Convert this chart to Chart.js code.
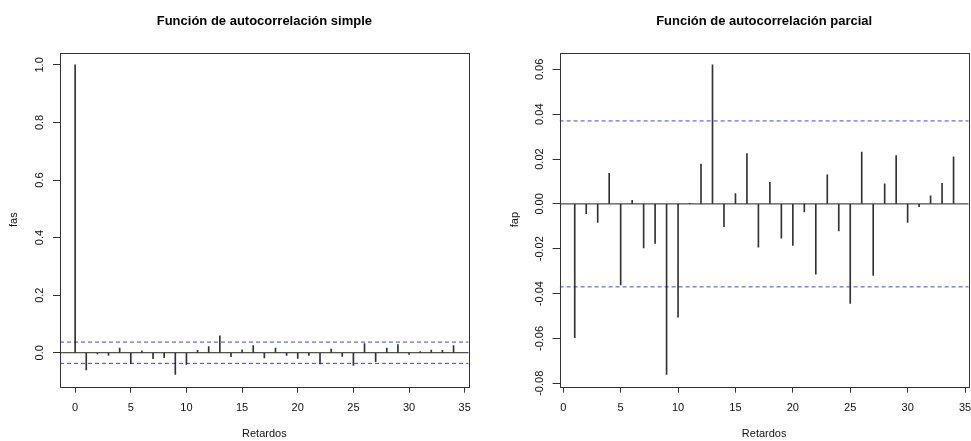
<!DOCTYPE html>
<html>
<head>
<meta charset="utf-8">
<script src="https://cdn.jsdelivr.net/npm/chart.js@4"></script>
<style>
  body { margin: 0; background: #fff; }
  canvas { position: absolute; top: 0; }
  #acfChart { left: 0; }
  #pacfChart { left: 485px; }
</style>
</head>
<body>
<canvas id="acfChart" width="485" height="441"></canvas>
<canvas id="pacfChart" width="486" height="441"></canvas>
<script>
// data
const acfLags = [0, 1, 2, 3, 4, 5, 6, 7, 8, 9, 10, 11, 12, 13, 14, 15, 16, 17,
  18, 19, 20, 21, 22, 23, 24, 25, 26, 27, 28, 29, 30, 31, 32, 33, 34];
const acfValues = [1.000, -0.060, -0.004, -0.009, 0.016, -0.037, 0.007, -0.021, -0.017,
  -0.075, -0.041, 0.008, 0.021, 0.059, -0.014, 0.010, 0.025, -0.018, 0.016, -0.009,
  -0.020, -0.009, -0.039, 0.013, -0.013, -0.044, 0.032, -0.031, 0.016, 0.028, -0.006,
  0.004, 0.009, 0.008, 0.025];

const pacfLags = [1, 2, 3, 4, 5, 6, 7, 8, 9, 10, 11, 12, 13, 14, 15, 16, 17,
  18, 19, 20, 21, 22, 23, 24, 25, 26, 27, 28, 29, 30, 31, 32, 33, 34];
const pacfValues = [-0.0597, -0.0044, -0.0083, 0.0136, -0.0361, 0.0016, -0.0196, -0.0176,
  -0.0760, -0.0505, 0.0003, 0.0178, 0.0620, -0.0102, 0.0046, 0.0224, -0.0193, 0.0096,
  -0.0153, -0.0185, -0.0036, -0.0313, 0.0130, -0.0121, -0.0444, 0.0231, -0.0319, 0.0089,
  0.0216, -0.0083, -0.0012, 0.0036, 0.0092, 0.0210];

const ciLimit = 0.037; // dashed blue band

const xTicks = [0, 5, 10, 15, 20, 25, 30, 35];
const xTickLabels = ['0', '5', '10', '15', '20', '25', '30', '35'];
const acfYTicks = [0, 0.2, 0.4, 0.6, 0.8, 1.0];
const acfYTickLabels = ['0.0', '0.2', '0.4', '0.6', '0.8', '1.0'];
const pacfYTicks = [-0.08, -0.06, -0.04, -0.02, 0, 0.02, 0.04, 0.06];
const pacfYTickLabels = ['-0.08', '-0.06', '-0.04', '-0.02', '0.00', '0.02', '0.04', '0.06'];

const FONT = '"Liberation Sans", Arial, Helvetica, sans-serif';

// R pads the data range by 4% on each side
function expand(lo, hi) {
  const d = (hi - lo) * 0.04;
  return [lo - d, hi + d];
}

function makeChart(id, cfg) {
  const [xMin, xMax] = expand(Math.min(...cfg.lags), Math.max(...cfg.lags));
  const [yMin, yMax] = expand(Math.min(...cfg.values, -ciLimit), Math.max(...cfg.values, ciLimit));

  // box, rotated y tick labels and x tick labels, R style
  const framePlugin = {
    id: 'rframe',
    afterDraw(chart) {
      const { ctx, chartArea: a, scales } = chart;
      ctx.save();
      ctx.strokeStyle = '#333';
      ctx.lineWidth = 1;
      ctx.strokeRect(Math.round(a.left) + 0.5, Math.round(a.top) + 0.5,
        Math.round(a.right - a.left), Math.round(a.bottom - a.top));
      ctx.fillStyle = '#111';
      ctx.font = '11px ' + FONT;
      ctx.textAlign = 'center';
      ctx.textBaseline = 'middle';
      xTicks.forEach((v, i) => {
        ctx.fillText(xTickLabels[i], scales.x.getPixelForValue(v), a.bottom + 21);
      });
      cfg.yTicks.forEach((v, i) => {
        ctx.save();
        ctx.translate(a.left - 20, scales.y.getPixelForValue(v));
        ctx.rotate(-Math.PI / 2);
        ctx.fillText(cfg.yTickLabels[i], 0, 0);
        ctx.restore();
      });
      ctx.restore();
    }
  };

  return new Chart(document.getElementById(id), {
    type: 'bar',
    data: {
      datasets: [
        {
          type: 'line',
          data: [{ x: xMin, y: ciLimit }, { x: xMax, y: ciLimit }],
          borderColor: 'rgba(0, 0, 255, 0.75)',
          borderWidth: 1,
          borderDash: [4, 3],
          pointRadius: 0
        },
        {
          type: 'line',
          data: [{ x: xMin, y: -ciLimit }, { x: xMax, y: -ciLimit }],
          borderColor: 'rgba(0, 0, 255, 0.75)',
          borderWidth: 1,
          borderDash: [4, 3],
          pointRadius: 0
        },
        {
          type: 'line',
          data: [{ x: xMin, y: 0 }, { x: xMax, y: 0 }],
          borderColor: '#222',
          borderWidth: 1,
          pointRadius: 0
        },
        {
          type: 'bar',
          data: cfg.lags.map((l, i) => ({ x: l, y: cfg.values[i] })),
          backgroundColor: '#333',
          borderWidth: 0,
          barThickness: 1
        }
      ]
    },
    options: {
      responsive: false,
      animation: false,
      layout: { padding: { left: 0, right: cfg.padRight, top: 0, bottom: 0 } },
      plugins: {
        legend: { display: false },
        tooltip: { enabled: false },
        title: {
          display: true,
          text: cfg.title,
          fullSize: false,
          color: '#000',
          font: { family: FONT, size: 13, weight: 'bold' },
          padding: { top: 13.2, bottom: 23.7 }
        }
      },
      scales: {
        x: {
          type: 'linear',
          min: xMin,
          max: xMax,
          offset: false,
          afterBuildTicks: (s) => { s.ticks = xTicks.map(v => ({ value: v })); },
          afterFit: (s) => { s.height = 54.3; },
          ticks: { display: false },
          grid: { offset: false, drawOnChartArea: false, drawTicks: true, tickLength: 6, color: '#333' },
          border: { display: false },
          title: {
            display: true,
            text: 'Retardos',
            color: '#111',
            font: { family: FONT, size: 11 },
            padding: { top: 0, bottom: 0 }
          }
        },
        y: {
          type: 'linear',
          min: yMin,
          max: yMax,
          afterBuildTicks: (s) => { s.ticks = cfg.yTicks.map(v => ({ value: v })); },
          afterFit: (s) => { s.width = cfg.yWidth; },
          ticks: { display: false },
          grid: { drawOnChartArea: false, drawTicks: true, tickLength: 7, color: '#333' },
          border: { display: false },
          title: {
            display: true,
            text: cfg.yLabel,
            color: '#111',
            font: { family: FONT, size: 11 },
            padding: { top: cfg.yLabelPad, bottom: 0 }
          }
        }
      }
    },
    plugins: [framePlugin]
  });
}

const acfChart = makeChart('acfChart', {
  lags: acfLags,
  values: acfValues,
  yTicks: acfYTicks,
  yTickLabels: acfYTickLabels,
  title: 'Función de autocorrelación simple',
  yLabel: 'fas',
  yWidth: 60,
  yLabelPad: 7.4,
  padRight: 16.3
});

const pacfChart = makeChart('pacfChart', {
  lags: pacfLags,
  values: pacfValues,
  yTicks: pacfYTicks,
  yTickLabels: pacfYTickLabels,
  title: 'Función de autocorrelación parcial',
  yLabel: 'fap',
  yWidth: 74.6,
  yLabelPad: 23.4,
  padRight: 2.3
});
</script>
</body>
</html>
